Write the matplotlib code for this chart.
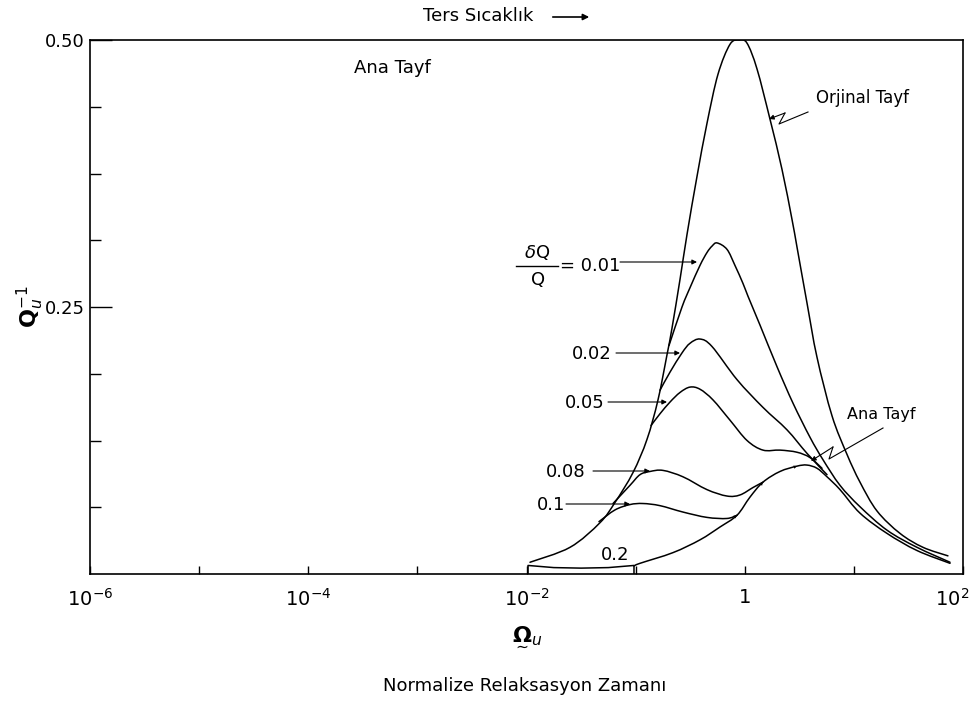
import numpy as np
import matplotlib
matplotlib.use("Agg")
import matplotlib.pyplot as plt
from matplotlib.ticker import NullFormatter
from matplotlib.path import Path
from matplotlib.patches import PathPatch, FancyArrowPatch
from matplotlib.lines import Line2D
from matplotlib.transforms import ScaledTranslation

# ---------------- data ----------------
# x values are log10 of the normalised relaxation time, y values are Q_u^-1
orig_logw = [-1.968, -1.601, -1.327, -1.189, -1.024, -0.896, -0.795, -0.713, -0.667,
             -0.593, -0.529, -0.438, -0.346, -0.245, -0.135, -0.05, 0.021, 0.112,
             0.231, 0.341, 0.433, 0.479, 0.570, 0.662, 0.800, 0.937, 1.056, 1.212,
             1.423, 1.633, 1.862]
orig_q = [0.011, 0.025, 0.048, 0.067, 0.095, 0.126, 0.163, 0.205, 0.230,
          0.276, 0.318, 0.372, 0.422, 0.468, 0.496, 0.500, 0.497, 0.473,
          0.426, 0.379, 0.332, 0.306, 0.254, 0.203, 0.148, 0.112, 0.086, 0.059,
          0.038, 0.025, 0.017]

d001_logw = [-0.694, -0.575, -0.502, -0.410, -0.346, -0.300, -0.254, -0.163, -0.090, -0.016,
             0.030, 0.140, 0.296, 0.442, 0.598, 0.717, 0.873, 1.056, 1.304, 1.578, 1.881]
d001_q = [0.214, 0.250, 0.268, 0.289, 0.301, 0.307, 0.310, 0.304, 0.289, 0.272,
          0.260, 0.233, 0.194, 0.160, 0.128, 0.107, 0.083, 0.063, 0.041, 0.025, 0.011]

d002_logw = [-0.777, -0.685, -0.575, -0.502, -0.410, -0.300, -0.071, 0.167, 0.387, 0.570, 0.754]
d002_q = [0.172, 0.189, 0.207, 0.216, 0.220, 0.213, 0.182, 0.156, 0.135, 0.113, 0.093]

d005_logw = [-0.859, -0.777, -0.685, -0.593, -0.502, -0.410, -0.291, -0.135, 0.021,
             0.167, 0.323, 0.479, 0.598, 0.708]
d005_q = [0.139, 0.150, 0.161, 0.170, 0.175, 0.173, 0.163, 0.144, 0.125,
          0.116, 0.116, 0.114, 0.109, 0.099]

d008_logw = [-1.207, -1.052, -0.960, -0.868, -0.749, -0.566, -0.346, -0.163, -0.044, 0.076, 0.167]
d008_q = [0.066, 0.083, 0.093, 0.096, 0.097, 0.091, 0.079, 0.073, 0.074, 0.081, 0.086]

d01_logw = [-1.336, -1.189, -1.052, -0.933, -0.777, -0.566, -0.346, -0.163, -0.071]
d01_q = [0.049, 0.060, 0.065, 0.066, 0.064, 0.058, 0.053, 0.052, 0.055]

d02_logw = [-1.986, -1.986, -1.75, -1.5, -1.25, -1.015, -1.015]
d02_q = [0.0, 0.008, 0.006, 0.0055, 0.006, 0.008, 0.0]

ana_logw = [-1.015, -0.960, -0.658, -0.410, -0.227, -0.071, 0.048, 0.167, 0.323,
            0.479, 0.570, 0.662, 0.754, 0.873, 1.056, 1.304, 1.578, 1.881]
ana_q = [0.0075, 0.010, 0.020, 0.032, 0.044, 0.055, 0.072, 0.086, 0.096,
         0.101, 0.102, 0.099, 0.091, 0.079, 0.057, 0.038, 0.022, 0.010]

x_tick_pos = [1e-6, 1e-5, 1e-4, 1e-3, 1e-2, 1e-1, 1, 1e1, 1e2]
x_tick_lab = [r"$10^{-6}$", "", r"$10^{-4}$", "", r"$10^{-2}$", "", "1", "", r"$10^{2}$"]
y_major = [0.25, 0.50]
y_major_lab = ["0.25", "0.50"]
y_minor = [k / 16 for k in range(1, 8)]

# ---------------- figure ----------------
W, H = 977, 701
fig = plt.figure(figsize=(W / 100, H / 100), dpi=100)
ax = fig.add_axes([90 / W, 127 / H, 873 / W, 534 / H])

def P(px, py):
    """pixel position -> figure fraction (layout helper)"""
    return px / W, 1 - py / H

lw = 1.1

def smooth_curve(lx, q):
    """Draw a smooth line through the read points (Catmull-Rom -> Bezier path)."""
    pts = np.column_stack([lx, q]).astype(float)
    n = len(pts)
    verts = [pts[0]]
    codes = [Path.MOVETO]
    for i in range(n - 1):
        p0 = pts[i - 1] if i > 0 else pts[i]
        p1 = pts[i]
        p2 = pts[i + 1]
        p3 = pts[i + 2] if i + 2 < n else pts[i + 1]
        c1 = p1 + (p2 - p0) / 6.0
        c2 = p2 - (p3 - p1) / 6.0
        verts += [c1, c2, p2]
        codes += [Path.CURVE4] * 3
    verts = np.array(verts)
    verts[:, 0] = 10 ** verts[:, 0]
    patch = PathPatch(Path(verts, codes), facecolor="none", edgecolor="black",
                      lw=lw, capstyle="round", joinstyle="round",
                      transform=ax.transData)
    ax.add_patch(patch)

smooth_curve(orig_logw, orig_q)
smooth_curve(d001_logw, d001_q)
smooth_curve(d002_logw, d002_q)
smooth_curve(d005_logw, d005_q)
smooth_curve(d008_logw, d008_q)
smooth_curve(d01_logw, d01_q)
smooth_curve(ana_logw, ana_q)
ax.plot(10 ** np.asarray(d02_logw), d02_q, color="black", lw=lw)

ax.set_xscale("log")
ax.set_xlim(1e-6, 1e2)
ax.set_ylim(0, 0.5)
ax.set_xticks(x_tick_pos)
ax.set_xticklabels(x_tick_lab, fontsize=14)
ax.xaxis.set_minor_formatter(NullFormatter())
ax.tick_params(axis="x", which="minor", length=0)
ax.tick_params(axis="x", which="major", direction="in", length=6, width=1.0, pad=10)
ax.set_yticks(y_major)
ax.set_yticklabels(y_major_lab, fontsize=13)
ax.set_yticks(y_minor, minor=True)
ax.tick_params(axis="y", which="major", direction="in", length=16, width=1.0, pad=4)
ax.tick_params(axis="y", which="minor", direction="in", length=8, width=1.0)
for s in ax.spines.values():
    s.set_linewidth(1.2)
# keep the last x label inside the picture
last = ax.get_xticklabels()[-1]
last.set_transform(last.get_transform() + ScaledTranslation(-8 / 72, 0, fig.dpi_scale_trans))

# ---------------- texts ----------------
fs = 13
fig.text(*P(478, 16), "Ters Sıcaklık", fontsize=fs, ha="center", va="center")
fig.add_artist(FancyArrowPatch(P(550, 17), P(592, 17), transform=fig.transFigure,
                               arrowstyle="-|>", mutation_scale=9, color="black", lw=1.2))
fig.text(*P(30, 307), r"$\mathbf{Q}_{u}^{-1}$", fontsize=16, rotation=90,
         ha="center", va="center")
fig.text(*P(527, 636), r"$\underset{\sim}{\mathbf{\Omega}}_{u}$", fontsize=16,
         ha="center", va="center")
fig.text(*P(525, 686), "Normalize Relaksasyon Zamanı", fontsize=fs, ha="center", va="center")
fig.text(*P(392, 68), "Ana Tayf", fontsize=fs, ha="center", va="center")

fig.text(*P(862, 98), "Orjinal Tayf", fontsize=12, ha="center", va="center")
fig.text(*P(881, 414), "Ana Tayf", fontsize=11.5, ha="center", va="center")

# dQ/Q labels
fig.text(*P(537, 253), r"$\delta$Q", fontsize=fs, ha="center", va="center")
fig.add_artist(Line2D([P(516, 0)[0], P(558, 0)[0]], [P(0, 266)[1]] * 2,
                      color="black", lw=1.0))
fig.text(*P(538, 280), "Q", fontsize=fs, ha="center", va="center")
fig.text(*P(590, 266), "= 0.01", fontsize=fs, ha="center", va="center")
fig.text(*P(592, 354), "0.02", fontsize=fs, ha="center", va="center")
fig.text(*P(585, 403), "0.05", fontsize=fs, ha="center", va="center")
fig.text(*P(566, 472), "0.08", fontsize=fs, ha="center", va="center")
fig.text(*P(551, 505), "0.1", fontsize=fs, ha="center", va="center")
fig.text(*P(615, 555), "0.2", fontsize=fs, ha="center", va="center")

def leader(p0, p1):
    fig.add_artist(FancyArrowPatch(P(*p0), P(*p1), transform=fig.transFigure,
                                   arrowstyle="-|>", mutation_scale=7,
                                   color="black", lw=0.8, shrinkA=0, shrinkB=0))

leader((620, 262), (697, 262))
leader((616, 353), (680, 353))
leader((608, 402), (667, 402))
leader((593, 471), (650, 471))
leader((566, 504), (630, 504))

# zig-zag leaders
def zig(points):
    xs = [P(*p)[0] for p in points]
    ys = [P(*p)[1] for p in points]
    fig.add_artist(Line2D(xs[:-1], ys[:-1], color="black", lw=0.8))
    leader(points[-2], points[-1])

zig([(808, 112), (779, 124), (785, 113), (769, 119)])
zig([(883, 428), (829, 459), (833, 447), (811, 461)])

# small direction arrowheads along the main spectrum
for i in (5, 7, 9):
    ax.annotate("", xy=(10 ** ana_logw[i], ana_q[i]),
                xytext=(10 ** ana_logw[i - 1], ana_q[i - 1]),
                arrowprops=dict(arrowstyle="-|>", mutation_scale=6, color="black",
                                lw=0.0, shrinkA=0, shrinkB=0))

fig.savefig("out.png", dpi=100)
